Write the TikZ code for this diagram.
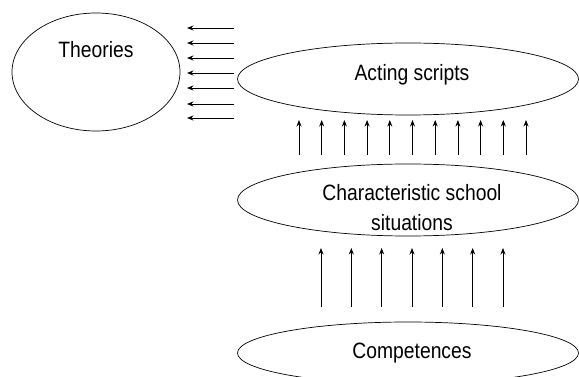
\documentclass[tikz,border=0pt]{standalone}
\usepackage{fontspec}
\setmainfont{Liberation Sans}
\usetikzlibrary{shapes.geometric,arrows.meta}
\newcommand{\tallt}[1]{\scalebox{1}[1.15]{#1}}
\begin{document}
\begin{tikzpicture}[x=1pt,y=-1pt,
  oval/.style={draw,ellipse,line width=0.7pt,inner sep=0pt},
  lbl/.style={anchor=base,inner sep=0pt,font=\fontsize{19.3}{29}\selectfont},
  arr/.style={line width=0.8pt,-{Stealth[length=6.5pt,width=5pt]}}]
\useasboundingbox (0,0) rectangle (579,377);
\node[oval,minimum width=168pt,minimum height=118pt] (theo) at (96,72) {};
\node[oval,minimum width=341pt,minimum height=72pt] (act) at (408,79) {};
\node[oval,minimum width=341pt,minimum height=72pt] (char) at (408,200) {};
\node[oval,minimum width=341pt,minimum height=62pt] (comp) at (408,353) {};
\node[lbl] (ttheo) at (96,58) {\tallt{Theories}};
\node[lbl] (tact) at (412,81) {\tallt{Acting scripts}};
\node[lbl] (tchar1) at (412,201) {\tallt{Characteristic school}};
\node[lbl] (tchar2) at (412,231) {\tallt{situations}};
\node[lbl] (tcomp) at (412,358) {\tallt{Competences}};
\foreach \y in {28,43,58,73,88,104,118}{
  \coordinate (ls\y) at (234,\y);
  \coordinate (le\y) at (187,\y);
  \draw[arr] (ls\y) -- (le\y);
}
\foreach \i in {0,...,10}{
  \coordinate (as\i) at ({299+22.7*\i},155);
  \coordinate (ae\i) at ({299+22.7*\i},120);
  \draw[arr] (as\i) -- (ae\i);
}
\foreach \i in {0,...,6}{
  \coordinate (bs\i) at ({321+30.33*\i},307);
  \coordinate (be\i) at ({321+30.33*\i},248);
  \draw[arr] (bs\i) -- (be\i);
}
\end{tikzpicture}
\end{document}
